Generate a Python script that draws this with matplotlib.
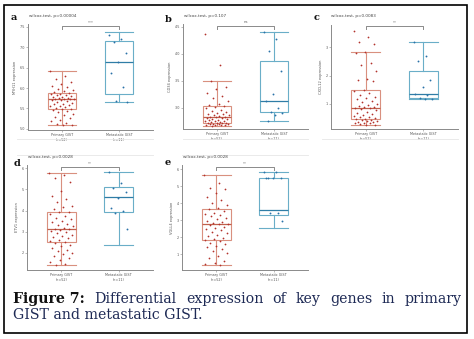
import numpy as np
import matplotlib
matplotlib.use("Agg")
import matplotlib.pyplot as plt
from matplotlib.patches import Rectangle
from matplotlib.lines import Line2D

W, H = 474, 339
fig = plt.figure(figsize=(W / 100, H / 100), dpi=100)

# ---------------- data ----------------
groups = ["Primary GIST\n(n=52)", "Metastatic GIST\n(n=11)"]
panel_labels = ["a", "b", "c", "d", "e"]
titles = ["wilcox.test, p=0.00004", "wilcox.test, p=0.107", "wilcox.test, p=0.0083",
          "wilcox.test, p=0.0028", "wilcox.test, p=0.0028"]
signif = ["***", "ns", "**", "**", "**"]
ylabels = ["MYH11 expression", "CD34 expression", "CXCL12 expression",
           "ETV1 expression", "VGLL4 expression"]

# box statistics: (whislo, q1, med, q3, whishi)
prim_stats = [(5.09, 5.48, 5.72, 5.87, 6.42),
              (2.67, 2.72, 2.83, 3.04, 3.50),
              (0.24, 0.47, 0.85, 1.50, 2.83),
              (1.40, 2.51, 3.11, 3.91, 5.76),
              (0.35, 1.83, 2.75, 3.64, 5.67)]
meta_stats = [(5.66, 5.85, 6.63, 7.16, 7.38),
              (2.76, 2.92, 3.13, 3.87, 4.41),
              (1.15, 1.19, 1.34, 2.17, 3.19),
              (2.35, 3.93, 4.62, 5.13, 5.84),
              (2.52, 3.28, 3.58, 5.51, 5.86)]

prim_a = [6.42, 6.30, 6.22, 6.15, 6.10, 6.05, 6.02, 5.98, 5.95, 5.92, 5.90, 5.88, 5.86,
          5.85, 5.84, 5.82, 5.80, 5.79, 5.77, 5.76, 5.75, 5.74, 5.73, 5.72, 5.72, 5.71,
          5.70, 5.68, 5.66, 5.64, 5.62, 5.60, 5.58, 5.56, 5.55, 5.53, 5.51, 5.49, 5.48,
          5.46, 5.43, 5.40, 5.36, 5.33, 5.30, 5.26, 5.22, 5.18, 5.14, 5.11, 5.10, 5.09]
meta_a = [7.30, 7.19, 7.12, 6.86, 6.64, 6.37, 6.02, 5.69, 5.66]
prim_b = [4.36, 3.79, 3.50, 3.38, 3.35, 3.28, 3.22, 3.18, 3.12, 3.08, 3.05, 3.04, 3.02,
          3.00, 2.97, 2.95, 2.93, 2.91, 2.89, 2.88, 2.87, 2.86, 2.85, 2.84, 2.83, 2.83,
          2.82, 2.81, 2.80, 2.79, 2.78, 2.77, 2.76, 2.76, 2.75, 2.74, 2.74, 2.73, 2.73,
          2.72, 2.72, 2.71, 2.71, 2.70, 2.70, 2.69, 2.69, 2.68, 2.68, 2.67]
meta_b = [4.41, 4.27, 4.06, 3.68, 3.26, 3.13, 3.00, 2.93, 2.90, 2.87, 2.76]
prim_c = [3.59, 3.36, 3.19, 3.12, 2.83, 2.80, 2.44, 2.37, 2.18, 1.88, 1.86, 1.80, 1.50,
          1.45, 1.38, 1.30, 1.25, 1.20, 1.15, 1.10, 1.05, 1.00, 0.97, 0.93, 0.90, 0.87,
          0.85, 0.83, 0.80, 0.76, 0.72, 0.68, 0.64, 0.60, 0.57, 0.54, 0.51, 0.49, 0.47,
          0.45, 0.43, 0.41, 0.39, 0.37, 0.36, 0.34, 0.33, 0.31, 0.30, 0.28, 0.26, 0.24]
meta_c = [3.21, 2.68, 2.53, 1.85, 1.58, 1.34, 1.30, 1.19, 1.17, 1.16]
prim_d = [5.76, 5.70, 5.55, 5.35, 4.95, 4.70, 4.55, 4.40, 4.22, 4.15, 4.05, 3.95, 3.91,
          3.85, 3.75, 3.66, 3.60, 3.52, 3.44, 3.36, 3.30, 3.25, 3.18, 3.14, 3.11, 3.08,
          3.03, 2.98, 2.92, 2.85, 2.80, 2.74, 2.68, 2.62, 2.56, 2.51, 2.45, 2.38, 2.30,
          2.22, 2.15, 2.08, 2.00, 1.92, 1.85, 1.75, 1.65, 1.55, 1.47, 1.40]
meta_d = [5.83, 5.29, 5.08, 4.86, 4.61, 4.13, 3.96, 3.87, 3.14]
prim_e = [5.67, 5.20, 4.90, 4.85, 4.60, 4.40, 4.20, 4.00, 3.90, 3.75, 3.64, 3.55, 3.45,
          3.38, 3.30, 3.22, 3.15, 3.05, 2.98, 2.90, 2.83, 2.78, 2.75, 2.70, 2.62, 2.55,
          2.48, 2.40, 2.32, 2.25, 2.15, 2.05, 1.95, 1.88, 1.83, 1.75, 1.68, 1.60, 1.50,
          1.40, 1.30, 1.20, 1.05, 0.90, 0.75, 0.60, 0.50, 0.42, 0.35]
meta_e = [5.86, 5.84, 5.51, 5.51, 5.50, 5.52, 3.44, 3.42, 2.95]

prim_pts = [prim_a, prim_b, prim_c, prim_d, prim_e]
meta_pts = [meta_a, meta_b, meta_c, meta_d, meta_e]

yticks = [[5.0, 5.5, 6.0, 6.5, 7.0, 7.5],
          [3.0, 3.5, 4.0, 4.5],
          [1, 2, 3],
          [2, 3, 4, 5, 6],
          [1, 2, 3, 4, 5, 6]]
ylims = [(4.97, 7.57), (2.61, 4.55), (0.10, 3.80), (1.18, 6.16), (0.06, 6.26)]
bracket_y = [7.52, 4.52, 3.78, 6.08, 6.16]

caption_bold = "Figure 7:"
caption_line1 = ["Differential", "expression", "of", "key", "genes", "in", "primary"]
caption_line2 = "GIST and metastatic GIST."

# ---------------- layout (pixels) ----------------
boxes_px = [(28, 24, 153, 130), (183, 24, 308, 129), (331, 25, 458, 129),
            (27, 165, 153, 270), (182, 165, 308, 270)]
title_px = [(29, 16), (184, 16), (331, 16), (28, 157), (183, 157)]
label_px = [(14, 17), (168, 19), (317, 17), (17, 164), (168, 162)]

P_EDGE, P_MED, P_PT = "#D9907F", "#C0604C", "#B3322C"
M_EDGE, M_MED, M_PT = "#6AAEC8", "#2F7DA6", "#2A72A8"


def jitter(n, width=0.21):
    k = np.arange(n)
    return ((k * 0.6180339887) % 1.0 - 0.5) * 2 * width


for i in range(5):
    x0, y0, x1, y1 = boxes_px[i]
    ax = fig.add_axes([x0 / W, 1 - y1 / H, (x1 - x0) / W, (y1 - y0) / H])
    stats = []
    for s, lab in zip([prim_stats[i], meta_stats[i]], groups):
        stats.append(dict(whislo=s[0], q1=s[1], med=s[2], q3=s[3], whishi=s[4],
                          fliers=[], label=lab))
    b = ax.bxp(stats, positions=[1, 2], widths=0.5, capwidths=0.5, showfliers=False,
               patch_artist=True)
    for j, (ec, mc) in enumerate([(P_EDGE, P_MED), (M_EDGE, M_MED)]):
        b["boxes"][j].set(facecolor="white", edgecolor=ec, linewidth=0.8)
        b["medians"][j].set(color=mc, linewidth=0.9)
        for w in b["whiskers"][2 * j:2 * j + 2]:
            w.set(color=ec, linewidth=0.8)
        for c in b["caps"][2 * j:2 * j + 2]:
            c.set(color=ec, linewidth=0.8)
    pp = prim_pts[i]
    mp = meta_pts[i]
    ax.scatter(1 + jitter(len(pp)), pp, s=1.6, color=P_PT, zorder=3, linewidths=0)
    ax.scatter(2 + jitter(len(mp), 0.17), mp, s=1.8, color=M_PT, zorder=3, linewidths=0)
    ax.set_xlim(0.4, 2.6)
    ax.set_ylim(*ylims[i])
    ax.set_yticks(yticks[i])
    ax.set_yticklabels([str(v) for v in yticks[i]])
    for sp in ["top", "right"]:
        ax.spines[sp].set_visible(False)
    for sp in ["left", "bottom"]:
        ax.spines[sp].set_color("#8a8a8a")
        ax.spines[sp].set_linewidth(0.7)
    ax.tick_params(axis="both", labelsize=2.4, length=1.2, width=0.4, pad=1,
                   colors="#8a8a8a", labelcolor="#555555")
    ax.set_ylabel(ylabels[i], fontsize=2.6, color="#555555", labelpad=2)
    # significance bracket
    yb = bracket_y[i]
    dy = (ylims[i][1] - ylims[i][0]) * 0.03
    ax.plot([1, 1, 2, 2], [yb - dy, yb, yb, yb - dy], color="#8a8a8a", lw=0.7,
            clip_on=False)
    ax.text(1.5, yb + dy * 0.4, signif[i], ha="center", va="bottom", fontsize=2.8,
            color="#666666", clip_on=False)
    tx, ty = title_px[i]
    fig.text(tx / W, 1 - ty / H, titles[i], fontsize=3.0, color="#444444",
             ha="left", va="center")
    lx, ly = label_px[i]
    fig.text(lx / W, 1 - ly / H, panel_labels[i], fontsize=7, family="DejaVu Serif",
             weight="bold", ha="center", va="center", color="#111111")

# faint panel separator lines
sep = [(17, 153, 139), (183, 308, 139), (322, 458, 139), (17, 153, 155), (182, 308, 155)]
for xa, xb, yy in sep:
    fig.add_artist(Line2D([xa / W, xb / W], [1 - yy / H, 1 - yy / H],
                          color="#e6e6e6", lw=0.6))

# outer border
fig.add_artist(Rectangle((4 / W, 1 - 333 / H), 463 / W, 328 / H, fill=False,
                         edgecolor="black", lw=1.2, transform=fig.transFigure))

# caption
CAP_FS = 10.2
CAP_COL = "#1e2a55"
serif = "DejaVu Serif"
fig.canvas.draw()
r = fig.canvas.get_renderer()
base1 = 1 - 303 / H
base2 = 1 - 319 / H
left_px, right_px = 13, 462
words = [fig.text(0, base1, caption_bold, fontsize=CAP_FS, family=serif,
                  weight="bold", color="#111111", va="baseline")]
for w in caption_line1:
    words.append(fig.text(0, base1, w, fontsize=CAP_FS, family=serif,
                          color=CAP_COL, va="baseline"))
widths = [t.get_window_extent(r).width for t in words]
gap = (right_px - left_px - sum(widths)) / (len(words) - 1)
x = left_px
for t, wd in zip(words, widths):
    t.set_x(x / W)
    x += wd + gap
fig.text(left_px / W, base2, caption_line2, fontsize=CAP_FS, family=serif,
         color=CAP_COL, va="baseline")

fig.savefig("out.png", dpi=100)
